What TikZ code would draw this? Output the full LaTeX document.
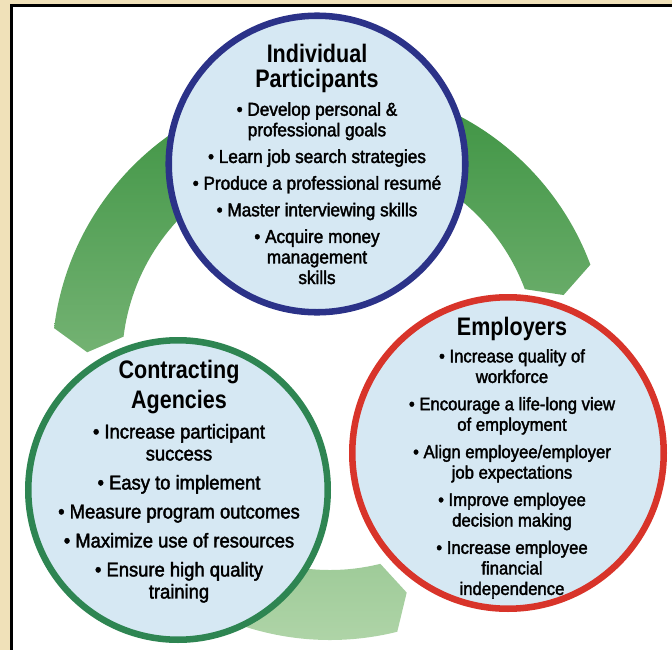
\documentclass[tikz,border=0pt]{standalone}
\usepackage{fontspec}
\setmainfont{Liberation Sans}
\newfontfamily\headfont{Liberation Sans}[FakeStretch=0.85]
\newfontfamily\listfont{Liberation Sans}[FakeStretch=0.92,FakeBold=2]
\usetikzlibrary{calc}

\definecolor{beigeBg}{RGB}{240,225,185}
\definecolor{cellFill}{RGB}{214,232,243}
\definecolor{navyRim}{RGB}{43,50,136}
\definecolor{greenRim}{RGB}{46,133,82}
\definecolor{redRim}{RGB}{216,52,42}
\definecolor{ringTop}{RGB}{61,147,66}
\definecolor{ringBot}{RGB}{178,214,170}

\tikzset{
  party/.style={circle, draw, fill=cellFill, line width=4.9pt, inner sep=0pt},
  bullets/.style={align=center, inner sep=0pt, text=black},
}
\newcommand{\hd}[1]{{\headfont\bfseries\fontsize{19}{19}\selectfont #1}}

\begin{document}
\begin{tikzpicture}[x=0.75pt,y=0.75pt,yscale=-1]
\useasboundingbox (0,0) rectangle (672,650);

%Background and panel
\fill[beigeBg] (0,0) rectangle (672,650);
\draw[fill=white, line width=2.2pt] (11.5,5.5) rectangle (690,670);

%Shape: Ring of three arcs
\coordinate (hub) at (330,362);
\shade[top color=ringTop, bottom color=ringBot]
  ($(hub)+(-100:278)$) arc[start angle=-100, end angle=-173, radius=278]
    -- ($(hub)+(-177.7:243)$) -- ($(hub)+(-173:208)$)
    arc[start angle=-173, end angle=-100, radius=208] -- cycle
  ($(hub)+(-80:278)$) arc[start angle=-80, end angle=-20.5, radius=278]
    -- ($(hub)+(-16:243)$) -- ($(hub)+(-20.5:208)$)
    arc[start angle=-20.5, end angle=-80, radius=208] -- cycle
  ($(hub)+(140:278)$) arc[start angle=140, end angle=76, radius=278]
    -- ($(hub)+(71.6:243)$) -- ($(hub)+(76:208)$)
    arc[start angle=76, end angle=140, radius=208] -- cycle;

%Shape: Circle
\node[party, draw=navyRim, minimum size=222.4pt] (people) at (317,164) {};
%Shape: Circle
\node[party, draw=greenRim, minimum size=224.6pt] (agency) at (178,490) {};
%Shape: Circle
\node[party, draw=redRim, minimum size=233.6pt] (employer) at (508,453) {};

% Text Node
\node[bullets, font=\listfont\fontsize{14}{15.4}\selectfont] (peopleTxt) at (people) {%
  \hd{Individual}\\[3.8pt]\hd{Participants}\\[5.6pt]
  • Develop personal \&\\professional goals\\[4.6pt]
  • Learn job search strategies\\[4.6pt]
  • Produce a professional resumé\\[4.6pt]
  • Master interviewing skills\\[4.6pt]
  • Acquire money\\management\\skills};

% Text Node
\node[bullets, font=\listfont\fontsize{15}{16.5}\selectfont] (agencyTxt) at ($(agency)+(1,-8.5)$) {%
  \hd{Contracting}\\[3.5pt]\hd{Agencies}\\[6pt]
  • Increase participant\\success\\[5.25pt]
  • Easy to implement\\[5.25pt]
  • Measure program outcomes\\[5.25pt]
  • Maximize use of resources\\[5.25pt]
  • Ensure high quality\\training};

% Text Node
\node[bullets, font=\listfont\fontsize{13.6}{15.4}\selectfont] (employerTxt) at ($(employer)+(4,5)$) {%
  \hd{Employers}\\[4.6pt]
  • Increase quality of\\workforce\\[5.1pt]
  • Encourage a life-long view\\of employment\\[5.1pt]
  • Align employee/employer\\job expectations\\[5.1pt]
  • Improve employee\\decision making\\[5.1pt]
  • Increase employee\\financial\\independence};

\end{tikzpicture}
\end{document}
